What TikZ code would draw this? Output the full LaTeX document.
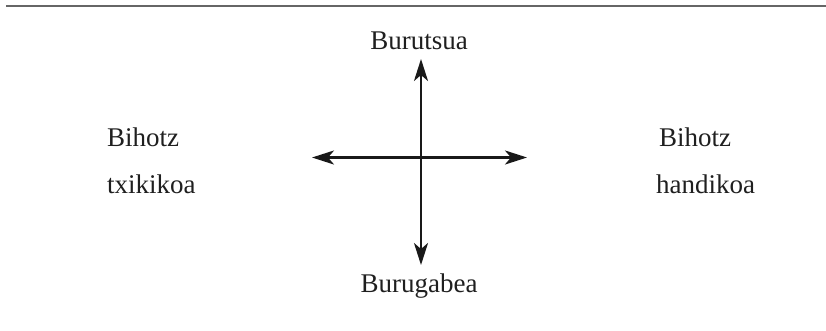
\documentclass[tikz,border=0pt]{standalone}
\usepackage{fontspec}
\setmainfont{Liberation Serif}
\usetikzlibrary{arrows.meta}
\begin{document}
\begin{tikzpicture}[x=1bp,y=-1bp,
  lbl/.style={inner sep=0pt, font=\fontsize{27bp}{30bp}\selectfont, text=black!88},
  axis/.style={line width=2.4bp, draw=black!90, {Stealth[length=22bp,width=14bp,inset=6bp]}-{Stealth[length=22bp,width=14bp,inset=6bp]}}]
\useasboundingbox (0,0) rectangle (826,330);
\draw[line width=2bp, draw=black!60] (6,6) -- (826,6);
\coordinate (vt) at (421,59);
\coordinate (vb) at (421,265);
\coordinate (hl) at (312,157.5);
\coordinate (hr) at (527,157.5);
\draw[axis] (vb) -- (vt);
\draw[axis] (hl) -- (hr);
\node[lbl, anchor=base] (top) at (419,49) {Burutsua};
\node[lbl, anchor=base] (bot) at (419,292.5) {Burugabea};
\node[lbl, anchor=base west] (l1) at (107,146.5) {Bihotz};
\node[lbl, anchor=base west] (l2) at (107,193) {txikikoa};
\node[lbl, anchor=base west] (r1) at (659,146.5) {Bihotz};
\node[lbl, anchor=base west] (r2) at (656,193) {handikoa};
\end{tikzpicture}
\end{document}
